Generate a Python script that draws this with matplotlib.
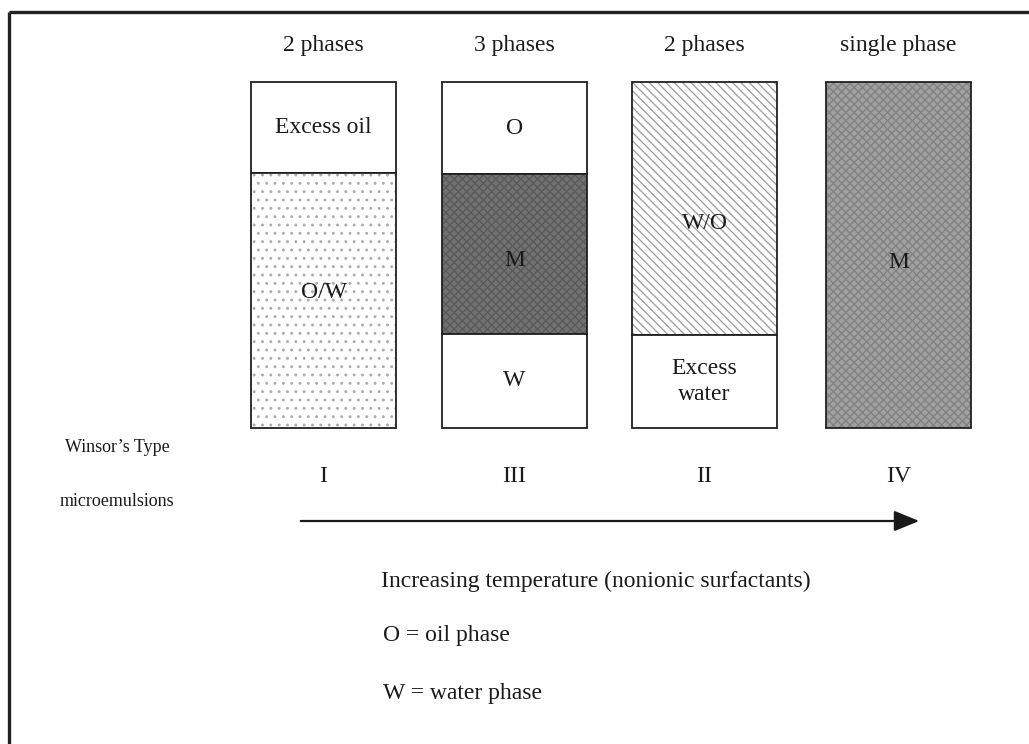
import matplotlib.pyplot as plt
from matplotlib.patches import Rectangle, FancyArrowPatch

plt.rcParams["font.family"] = ["Liberation Serif", "DejaVu Serif"]
plt.rcParams["hatch.linewidth"] = 0.9

W, H = 1029, 744

# column layout (pixel units of the figure)
col_left = [251, 442, 632, 826]
col_width = 145
phase_labels = ["2 phases", "3 phases", "2 phases", "single phase"]
winsor_types = ["I", "III", "II", "IV"]

# layers per column: (top, bottom, label, style)
layers = [
    [(82, 173, "Excess oil", "plain"), (173, 428, "O/W", "dots")],
    [(82, 174, "O", "plain"), (174, 334, "M", "dark"), (334, 428, "W", "plain")],
    [(82, 335, "W/O", "dashes"), (335, 428, "Excess\nwater", "plain")],
    [(82, 428, "M", "grey")],
]
label_offset = {"O/W": -8, "W/O": 15, "M": 7}

styles = {
    "plain":  dict(facecolor="white", hatch=None, hcolor="black"),
    "dots":   dict(facecolor="white", hatch="..", hcolor="#acacac"),
    "dark":   dict(facecolor="#717171", hatch="xxxx", hcolor="#585858"),
    "dashes": dict(facecolor="white", hatch="\\\\\\\\", hcolor="#9a9a9a"),
    "grey":   dict(facecolor="#a0a0a0", hatch="xxxx", hcolor="#808080"),
}

fig = plt.figure(figsize=(W / 100, H / 100), dpi=100)
ax = fig.add_axes([0, 0, 1, 1])
ax.set_xlim(0, W)
ax.set_ylim(H, 0)
ax.axis("off")

# outer frame (only top and left edges visible in the scan)
ax.plot([9, W], [12, 12], color="#222222", lw=2.4, solid_capstyle="butt")
ax.plot([9, 9], [12, H], color="#222222", lw=2.4, solid_capstyle="butt")

for i, x0 in enumerate(col_left):
    xc = x0 + col_width / 2
    for top, bot, lab, st in layers[i]:
        s = styles[st]
        ax.add_patch(Rectangle((x0, top), col_width, bot - top, facecolor=s["facecolor"],
                               edgecolor=s["hcolor"], hatch=s["hatch"], lw=0))
        ax.add_patch(Rectangle((x0, top), col_width, bot - top, fill=False,
                               edgecolor="#202020", lw=1.3))
        yc = (top + bot) / 2 + label_offset.get(lab, 0)
        ax.text(xc, yc, lab, ha="center", va="center", fontsize=17,
                color="#1a1a1a", linespacing=1.35)
    ax.text(xc, 45, phase_labels[i], ha="center", va="center", fontsize=17, color="#1a1a1a")
    ax.text(xc, 476, winsor_types[i], ha="center", va="center", fontsize=17, color="#1a1a1a")

ax.text(117, 448, "Winsor\u2019s Type", ha="center", va="center", fontsize=13, color="#1a1a1a")
ax.text(117, 502, "microemulsions", ha="center", va="center", fontsize=13, color="#1a1a1a")

arrow = FancyArrowPatch((298, 521), (922, 521), arrowstyle="-|>,head_length=1.1,head_width=0.45",
                        mutation_scale=14, color="#1a1a1a", lw=1.6)
ax.add_patch(arrow)

ax.text(381, 581, "Increasing temperature (nonionic surfactants)", ha="left", va="center",
        fontsize=17, color="#1a1a1a")
ax.text(383, 636, "O = oil phase", ha="left", va="center", fontsize=17, color="#1a1a1a")
ax.text(383, 693, "W = water phase", ha="left", va="center", fontsize=17, color="#1a1a1a")

fig.savefig("out.png", dpi=100)
